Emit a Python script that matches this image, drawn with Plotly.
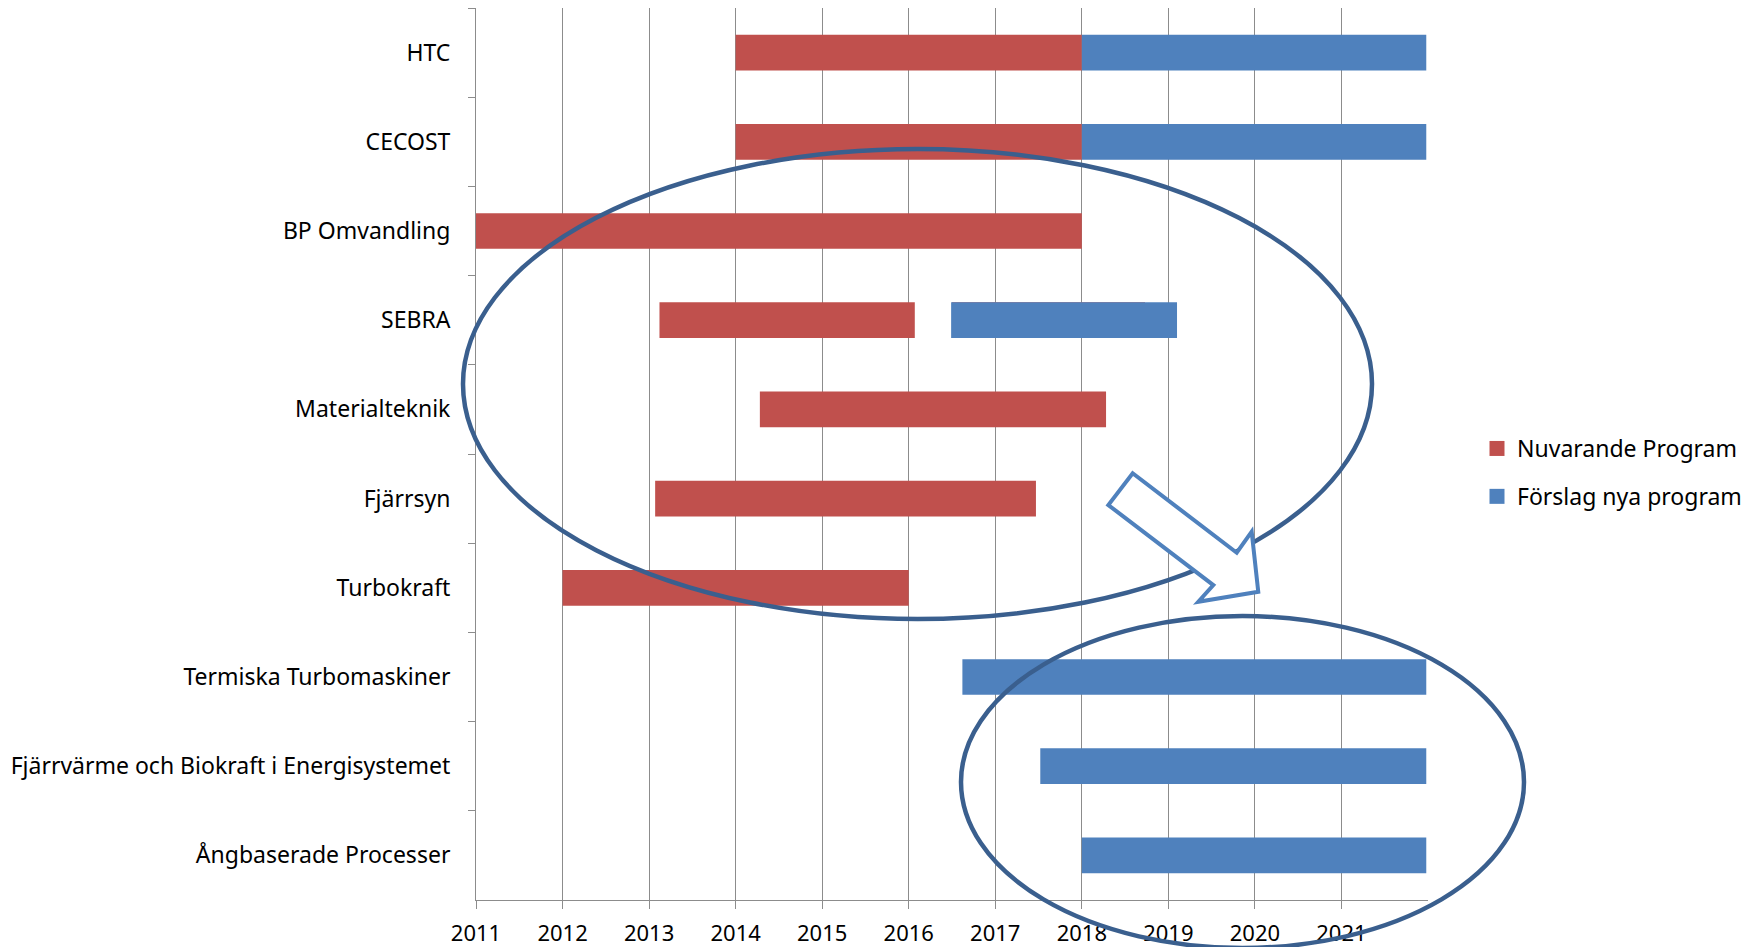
import plotly.graph_objects as go

programs = ["HTC", "CECOST", "BP Omvandling", "SEBRA", "Materialteknik", "Fjärrsyn",
            "Turbokraft", "Termiska Turbomaskiner",
            "Fjärrvärme och Biokraft i Energisystemet", "Ångbaserade Processer"]

# Nuvarande Program (current programmes): start / end year
nuv_programs = ["HTC", "CECOST", "BP Omvandling", "SEBRA", "SEBRA", "Materialteknik", "Fjärrsyn", "Turbokraft"]
nuv_start = [2014.0, 2014.0, 2011.0, 2013.12, 2016.5, 2014.28, 2013.07, 2012.0]
nuv_end = [2018.0, 2018.0, 2018.0, 2016.07, 2018.73, 2018.28, 2017.47, 2016.0]

# Förslag nya program (proposed programmes): start / end year
nya_programs = ["HTC", "CECOST", "SEBRA", "Termiska Turbomaskiner",
                "Fjärrvärme och Biokraft i Energisystemet", "Ångbaserade Processer"]
nya_start = [2018.0, 2018.0, 2016.49, 2016.62, 2017.52, 2018.0]
nya_end = [2021.98, 2021.98, 2019.1, 2021.98, 2021.98, 2021.98]

years = list(range(2011, 2022))

RED = "#C0504D"
BLUE = "#4F81BD"
GRID = "#8C8C8C"
ELL = "#3A5F8E"
FONT = "Noto Sans"

fig = go.Figure()
fig.add_trace(go.Bar(
    name="Nuvarande Program", orientation="h", y=nuv_programs,
    base=nuv_start, x=[e - s for s, e in zip(nuv_start, nuv_end)],
    marker=dict(color=RED, line=dict(width=0)), width=0.4,
    showlegend=False, hoverinfo="skip"))
fig.add_trace(go.Bar(
    name="Förslag nya program", orientation="h", y=nya_programs,
    base=nya_start, x=[e - s for s, e in zip(nya_start, nya_end)],
    marker=dict(color=BLUE, line=dict(width=0)), width=0.4,
    showlegend=False, hoverinfo="skip"))
# legend entries (square swatches)
for nm, col, grp in [("Nuvarande Program", RED, "a"), ("Förslag nya program", BLUE, "b")]:
    fig.add_trace(go.Scatter(
        name=nm, x=[None], y=[None], mode="markers",
        marker=dict(symbol="square", size=15, color=col),
        legendgroup=grp, showlegend=True, hoverinfo="skip"))

# plot area in pixels: left 476, right 1428, top 8, bottom 900
L, R, T, B = 476.0, 1428.0, 8.0, 900.0
def px(x):
    return (x - L) / (R - L)
def py(y):
    return (B - y) / (B - T)

shapes = [
    dict(type="circle", xref="paper", yref="paper",
         x0=px(463), x1=px(1372), y0=py(619), y1=py(149),
         line=dict(color=ELL, width=4.5), layer="above"),
    dict(type="circle", xref="paper", yref="paper",
         x0=px(961), x1=px(1524), y0=py(948), y1=py(616),
         line=dict(color=ELL, width=4.5), layer="above"),
]
arrow_pts = [(1132.7, 473.3), (1236.7, 552.7), (1251.7, 531.7), (1258.3, 591.7),
             (1198.3, 601.7), (1213.3, 585.0), (1108.3, 505.0)]
path = "M " + " L ".join(f"{px(a):.4f},{py(b):.4f}" for a, b in arrow_pts) + " Z"
shapes.append(dict(type="path", xref="paper", yref="paper", path=path,
                   line=dict(color=BLUE, width=4), fillcolor="white", layer="above"))

fig.update_layout(
    width=1756, height=947,
    margin=dict(l=476, r=1756 - 1428, t=8, b=947 - 900, pad=0, autoexpand=False),
    paper_bgcolor="white", plot_bgcolor="white",
    barmode="overlay",
    font=dict(family=FONT, size=23, color="black"),
    shapes=shapes,
    showlegend=True,
    legend=dict(x=px(1477), y=py(427), xanchor="left", yanchor="top",
                font=dict(family=FONT, size=23, color="black"),
                tracegroupgap=15, bgcolor="rgba(0,0,0,0)"),
    xaxis=dict(range=[2011, 2022], tickvals=years, ticktext=[str(y) for y in years],
               showgrid=True, gridcolor=GRID, gridwidth=1,
               showline=True, linecolor=GRID, linewidth=1,
               ticks="outside", ticklen=8, tickcolor=GRID, ticklabelstandoff=6,
               automargin=False,
               zeroline=False, tickfont=dict(size=22, family=FONT)),
    yaxis=dict(type="category", categoryorder="array", categoryarray=programs,
               autorange="reversed", automargin=False,
               showgrid=False, showline=True, linecolor=GRID, linewidth=1,
               ticks="outside", ticklen=7, tickcolor=GRID, tickson="boundaries",
               ticklabelstandoff=20, tickfont=dict(size=23, family=FONT)),
)

fig.write_html("out.html")
